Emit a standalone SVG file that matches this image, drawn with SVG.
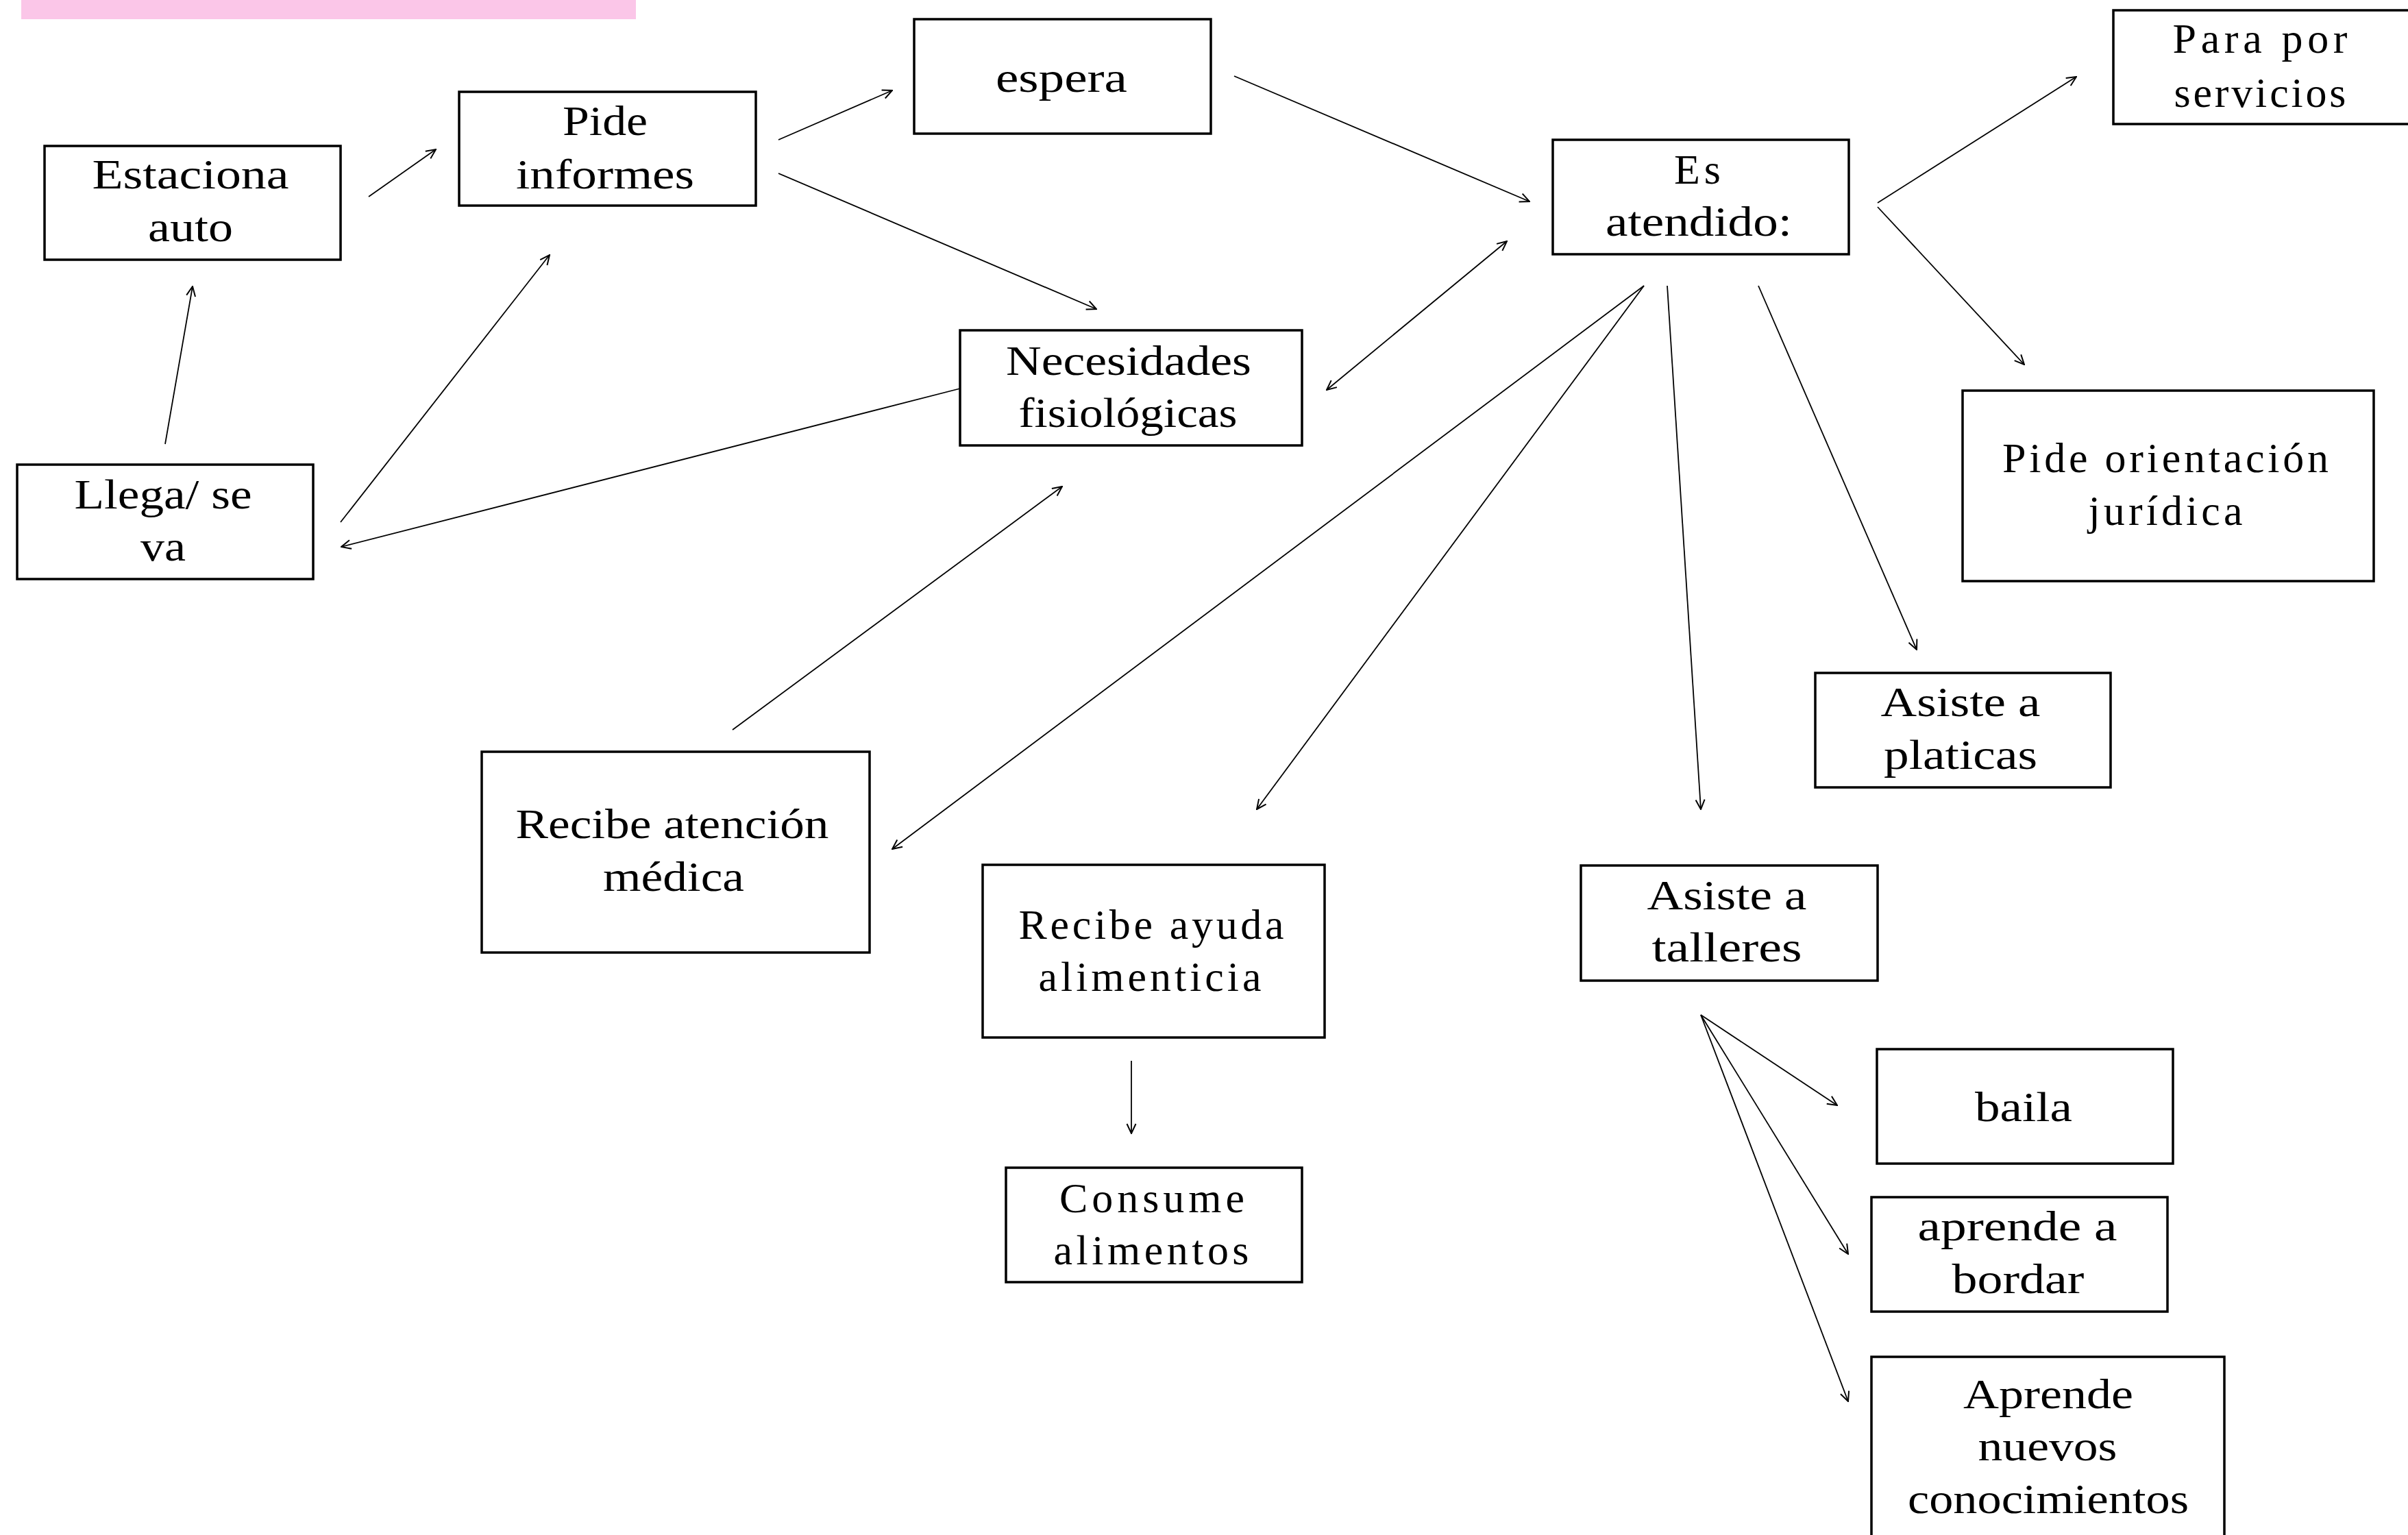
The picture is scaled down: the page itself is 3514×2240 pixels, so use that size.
<svg xmlns="http://www.w3.org/2000/svg" width="3514" height="2240" viewBox="0 0 3514 2240">
<style>
.box{fill:#ffffff;stroke:#000000;stroke-width:3.5}
.lbl{font-family:"Liberation Serif","DejaVu Serif",serif;font-size:62px;fill:#000000;text-anchor:middle}
.con{stroke:#000000;stroke-width:1.8;fill:none}
</style>
<defs>
<marker id="arr" viewBox="0 0 16 16" refX="15" refY="8" markerWidth="16" markerHeight="16" markerUnits="userSpaceOnUse" orient="auto-start-reverse">
<path d="M1,1.5 L15,8 L1,14.5" fill="none" stroke="#000000" stroke-width="2"/>
</marker>
</defs>
<rect width="3514" height="2240" fill="#ffffff"/>
<rect x="31" y="0" width="897" height="28" fill="#fbc6e8"/>
<g id="connectors">
<line class="con" x1="241" y1="648" x2="281" y2="418" marker-end="url(#arr)"/>
<line class="con" x1="497" y1="762" x2="802" y2="372" marker-end="url(#arr)"/>
<line class="con" x1="1401" y1="567" x2="498" y2="798" stroke-width="2.5" marker-end="url(#arr)"/>
<line class="con" x1="538" y1="287" x2="636" y2="218" marker-end="url(#arr)"/>
<line class="con" x1="1136" y1="204" x2="1302" y2="132" marker-end="url(#arr)"/>
<line class="con" x1="1136" y1="253" x2="1600" y2="451" marker-end="url(#arr)"/>
<line class="con" x1="1801" y1="111" x2="2232" y2="294" marker-end="url(#arr)"/>
<line class="con" x1="1936" y1="569" x2="2199" y2="352" marker-start="url(#arr)" marker-end="url(#arr)"/>
<line class="con" x1="2740" y1="296" x2="3030" y2="112" marker-end="url(#arr)"/>
<line class="con" x1="2740" y1="302" x2="2954" y2="532" marker-end="url(#arr)"/>
<line class="con" x1="2566" y1="417" x2="2797" y2="948" marker-end="url(#arr)"/>
<line class="con" x1="2433" y1="417" x2="2482" y2="1181" marker-end="url(#arr)"/>
<line class="con" x1="2399" y1="417" x2="1834" y2="1181" marker-end="url(#arr)"/>
<line class="con" x1="2399" y1="417" x2="1302" y2="1239" marker-end="url(#arr)"/>
<line class="con" x1="1069" y1="1065" x2="1550" y2="710" marker-end="url(#arr)"/>
<line class="con" x1="1651" y1="1548" x2="1651" y2="1654" marker-end="url(#arr)"/>
<line class="con" x1="2482" y1="1481" x2="2681" y2="1613" marker-end="url(#arr)"/>
<line class="con" x1="2482" y1="1481" x2="2697" y2="1830" marker-end="url(#arr)"/>
<line class="con" x1="2482" y1="1481" x2="2697" y2="2045" marker-end="url(#arr)"/>
</g>
<g id="n-estaciona">
<rect class="box" x="65" y="213" width="432" height="166"/>
<text class="lbl" x="278" y="275" textLength="287" lengthAdjust="spacingAndGlyphs">Estaciona</text>
<text class="lbl" x="278" y="352" textLength="124" lengthAdjust="spacingAndGlyphs">auto</text>
</g>
<g id="n-pide-informes">
<rect class="box" x="670" y="134" width="433" height="166"/>
<text class="lbl" x="883" y="197" textLength="124" lengthAdjust="spacingAndGlyphs">Pide</text>
<text class="lbl" x="883" y="275" textLength="260" lengthAdjust="spacingAndGlyphs">informes</text>
</g>
<g id="n-espera">
<rect class="box" x="1334" y="28" width="433" height="167"/>
<text class="lbl" x="1549" y="134" textLength="192" lengthAdjust="spacingAndGlyphs">espera</text>
</g>
<g id="n-atendido">
<rect class="box" x="2266" y="204" width="432" height="167"/>
<text class="lbl" x="2477" y="268" textLength="68" lengthAdjust="spacing">Es</text>
<text class="lbl" x="2479" y="344" textLength="272" lengthAdjust="spacingAndGlyphs">atendido:</text>
</g>
<g id="n-necesidades">
<rect class="box" x="1401" y="482" width="499" height="168"/>
<text class="lbl" x="1647" y="547" textLength="358" lengthAdjust="spacingAndGlyphs">Necesidades</text>
<text class="lbl" x="1646" y="623" textLength="319" lengthAdjust="spacingAndGlyphs">fisiológicas</text>
</g>
<g id="n-llega">
<rect class="box" x="25" y="678" width="432" height="167"/>
<text class="lbl" x="238" y="742" textLength="259" lengthAdjust="spacingAndGlyphs">Llega/ se</text>
<text class="lbl" x="238" y="818" textLength="66" lengthAdjust="spacingAndGlyphs">va</text>
</g>
<g id="n-para">
<rect class="box" x="3084" y="15" width="460" height="166"/>
<text class="lbl" x="3298" y="77" textLength="255" lengthAdjust="spacing">Para por</text>
<text class="lbl" x="3298" y="156" textLength="251" lengthAdjust="spacing">servicios</text>
</g>
<g id="n-orientacion">
<rect class="box" x="2864" y="570" width="600" height="278"/>
<text class="lbl" x="3160" y="689" textLength="476" lengthAdjust="spacing">Pide orientación</text>
<text class="lbl" x="3160" y="766" textLength="225" lengthAdjust="spacing">jurídica</text>
</g>
<g id="n-platicas">
<rect class="box" x="2649" y="982" width="431" height="167"/>
<text class="lbl" x="2861" y="1045" textLength="233" lengthAdjust="spacingAndGlyphs">Asiste a</text>
<text class="lbl" x="2861" y="1122" textLength="224" lengthAdjust="spacingAndGlyphs">platicas</text>
</g>
<g id="n-medica">
<rect class="box" x="703" y="1097" width="566" height="293"/>
<text class="lbl" x="981" y="1223" textLength="457" lengthAdjust="spacingAndGlyphs">Recibe atención</text>
<text class="lbl" x="983" y="1300" textLength="206" lengthAdjust="spacingAndGlyphs">médica</text>
</g>
<g id="n-ayuda">
<rect class="box" x="1434" y="1262" width="499" height="252"/>
<text class="lbl" x="1680" y="1370" textLength="387" lengthAdjust="spacing">Recibe ayuda</text>
<text class="lbl" x="1678" y="1446" textLength="325" lengthAdjust="spacing">alimenticia</text>
</g>
<g id="n-consume">
<rect class="box" x="1468" y="1704" width="432" height="167"/>
<text class="lbl" x="1681" y="1769" textLength="270" lengthAdjust="spacing">Consume</text>
<text class="lbl" x="1680" y="1845" textLength="285" lengthAdjust="spacing">alimentos</text>
</g>
<g id="n-talleres">
<rect class="box" x="2307" y="1263" width="433" height="168"/>
<text class="lbl" x="2520" y="1327" textLength="233" lengthAdjust="spacingAndGlyphs">Asiste a</text>
<text class="lbl" x="2520" y="1403" textLength="219" lengthAdjust="spacingAndGlyphs">talleres</text>
</g>
<g id="n-baila">
<rect class="box" x="2739" y="1531" width="432" height="167"/>
<text class="lbl" x="2953" y="1636" textLength="142" lengthAdjust="spacingAndGlyphs">baila</text>
</g>
<g id="n-bordar">
<rect class="box" x="2731" y="1747" width="432" height="167"/>
<text class="lbl" x="2944" y="1810" textLength="291" lengthAdjust="spacingAndGlyphs">aprende a</text>
<text class="lbl" x="2945" y="1887" textLength="193" lengthAdjust="spacingAndGlyphs">bordar</text>
</g>
<g id="n-conocimientos">
<rect class="box" x="2731" y="1980" width="515" height="300"/>
<text class="lbl" x="2989" y="2055" textLength="248" lengthAdjust="spacingAndGlyphs">Aprende</text>
<text class="lbl" x="2988" y="2131" textLength="203" lengthAdjust="spacingAndGlyphs">nuevos</text>
<text class="lbl" x="2989" y="2208" textLength="410" lengthAdjust="spacingAndGlyphs">conocimientos</text>
</g>
</svg>
